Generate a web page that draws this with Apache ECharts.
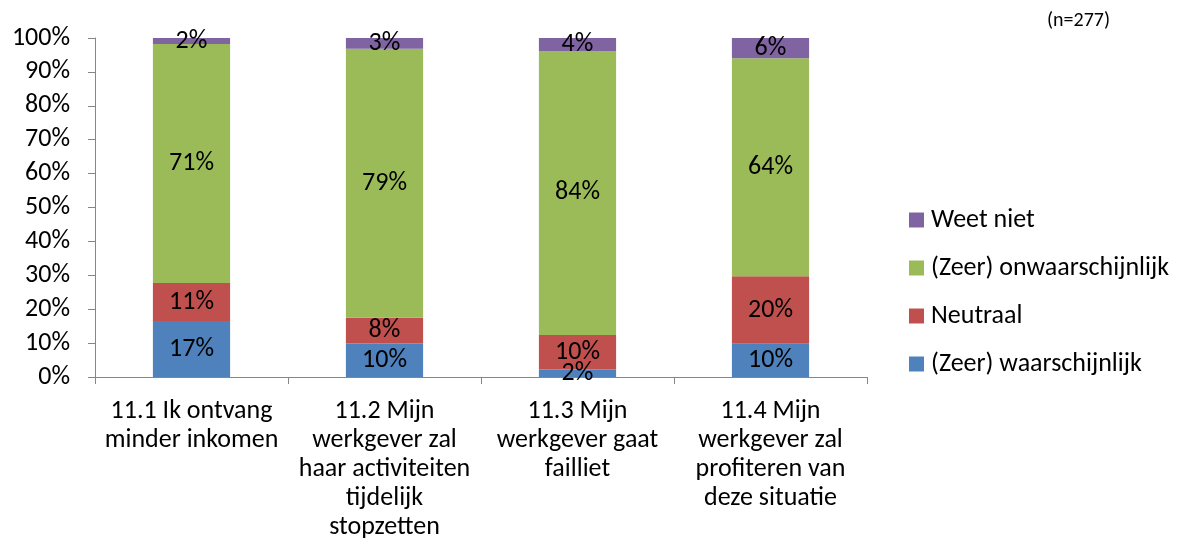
<!DOCTYPE html>
<html>
<head>
<meta charset="utf-8">
<script src="https://cdn.jsdelivr.net/npm/echarts@6/dist/echarts.min.js"></script>
<style>
html,body{margin:0;padding:0;background:#fff;}
#chart{width:1183px;height:554px;}
</style>
</head>
<body>
<div id="chart"></div>
<script>
var categories = [
  "11.1 Ik ontvang\nminder inkomen",
  "11.2 Mijn\nwerkgever zal\nhaar activiteiten\ntijdelijk\nstopzetten",
  "11.3 Mijn\nwerkgever gaat\nfailliet",
  "11.4 Mijn\nwerkgever zal\nprofiteren van\ndeze situatie"
];
var waarschijnlijk   = [16.5, 9.9, 2.2, 9.8];
var neutraal         = [11.2, 7.6, 10.2, 19.9];
var onwaarschijnlijk = [70.5, 79.3, 83.8, 64.3];
var weetNiet         = [1.8, 3.2, 3.8, 6.0];
var yTicks = [0, 10, 20, 30, 40, 50, 60, 70, 80, 90, 100];
var sampleNote = "(n=277)";

var FONT = "Carlito, Lato, sans-serif";
var FS = 26;
var chart = echarts.init(document.getElementById('chart'));

function mk(name, data, color) {
  return {
    name: name,
    type: 'bar',
    stack: 'total',
    data: data,
    barWidth: '40%',
    itemStyle: { color: color },
    label: {
      show: true,
      position: 'inside',
      color: '#000',
      fontFamily: FONT,
      fontSize: FS,
      formatter: function (p) { return Math.round(p.value) + '%'; }
    }
  };
}

chart.setOption({
  animation: false,
  title: {
    text: sampleNote,
    left: 1047,
    top: 11,
    padding: 0,
    textStyle: { fontFamily: FONT, fontSize: 20, fontWeight: 'normal', color: '#000' }
  },
  legend: {
    orient: 'vertical',
    left: 909,
    top: 207,
    padding: 0,
    itemWidth: 15,
    itemHeight: 15,
    itemGap: 22,
    icon: 'rect',
    data: ['Weet niet', '(Zeer) onwaarschijnlijk', 'Neutraal', '(Zeer) waarschijnlijk'],
    textStyle: { fontFamily: FONT, fontSize: FS, color: '#000', lineHeight: 26, padding: [0, 0, 0, 2] }
  },
  grid: { left: 95, right: 316, top: 38, bottom: 177, containLabel: false },
  xAxis: {
    type: 'category',
    data: categories,
    axisLine: { show: true, lineStyle: { color: '#868686', width: 1 } },
    axisTick: { show: true, length: 7, lineStyle: { color: '#868686' } },
    axisLabel: { margin: 20, fontFamily: FONT, fontSize: FS, lineHeight: 29, color: '#000', interval: 0, align: 'center' }
  },
  yAxis: {
    type: 'value',
    min: yTicks[0],
    max: yTicks[yTicks.length - 1],
    interval: yTicks[1] - yTicks[0],
    axisLine: { show: true, lineStyle: { color: '#868686', width: 1 } },
    axisTick: { show: true, length: 7, lineStyle: { color: '#868686' } },
    splitLine: { show: false },
    axisLabel: { margin: 25, fontFamily: FONT, fontSize: FS, color: '#000', formatter: '{value}%' }
  },
  series: [
    mk('(Zeer) waarschijnlijk', waarschijnlijk, '#4F81BD'),
    mk('Neutraal', neutraal, '#C0504D'),
    mk('(Zeer) onwaarschijnlijk', onwaarschijnlijk, '#9BBB59'),
    mk('Weet niet', weetNiet, '#8064A2')
  ]
});
</script>
</body>
</html>
